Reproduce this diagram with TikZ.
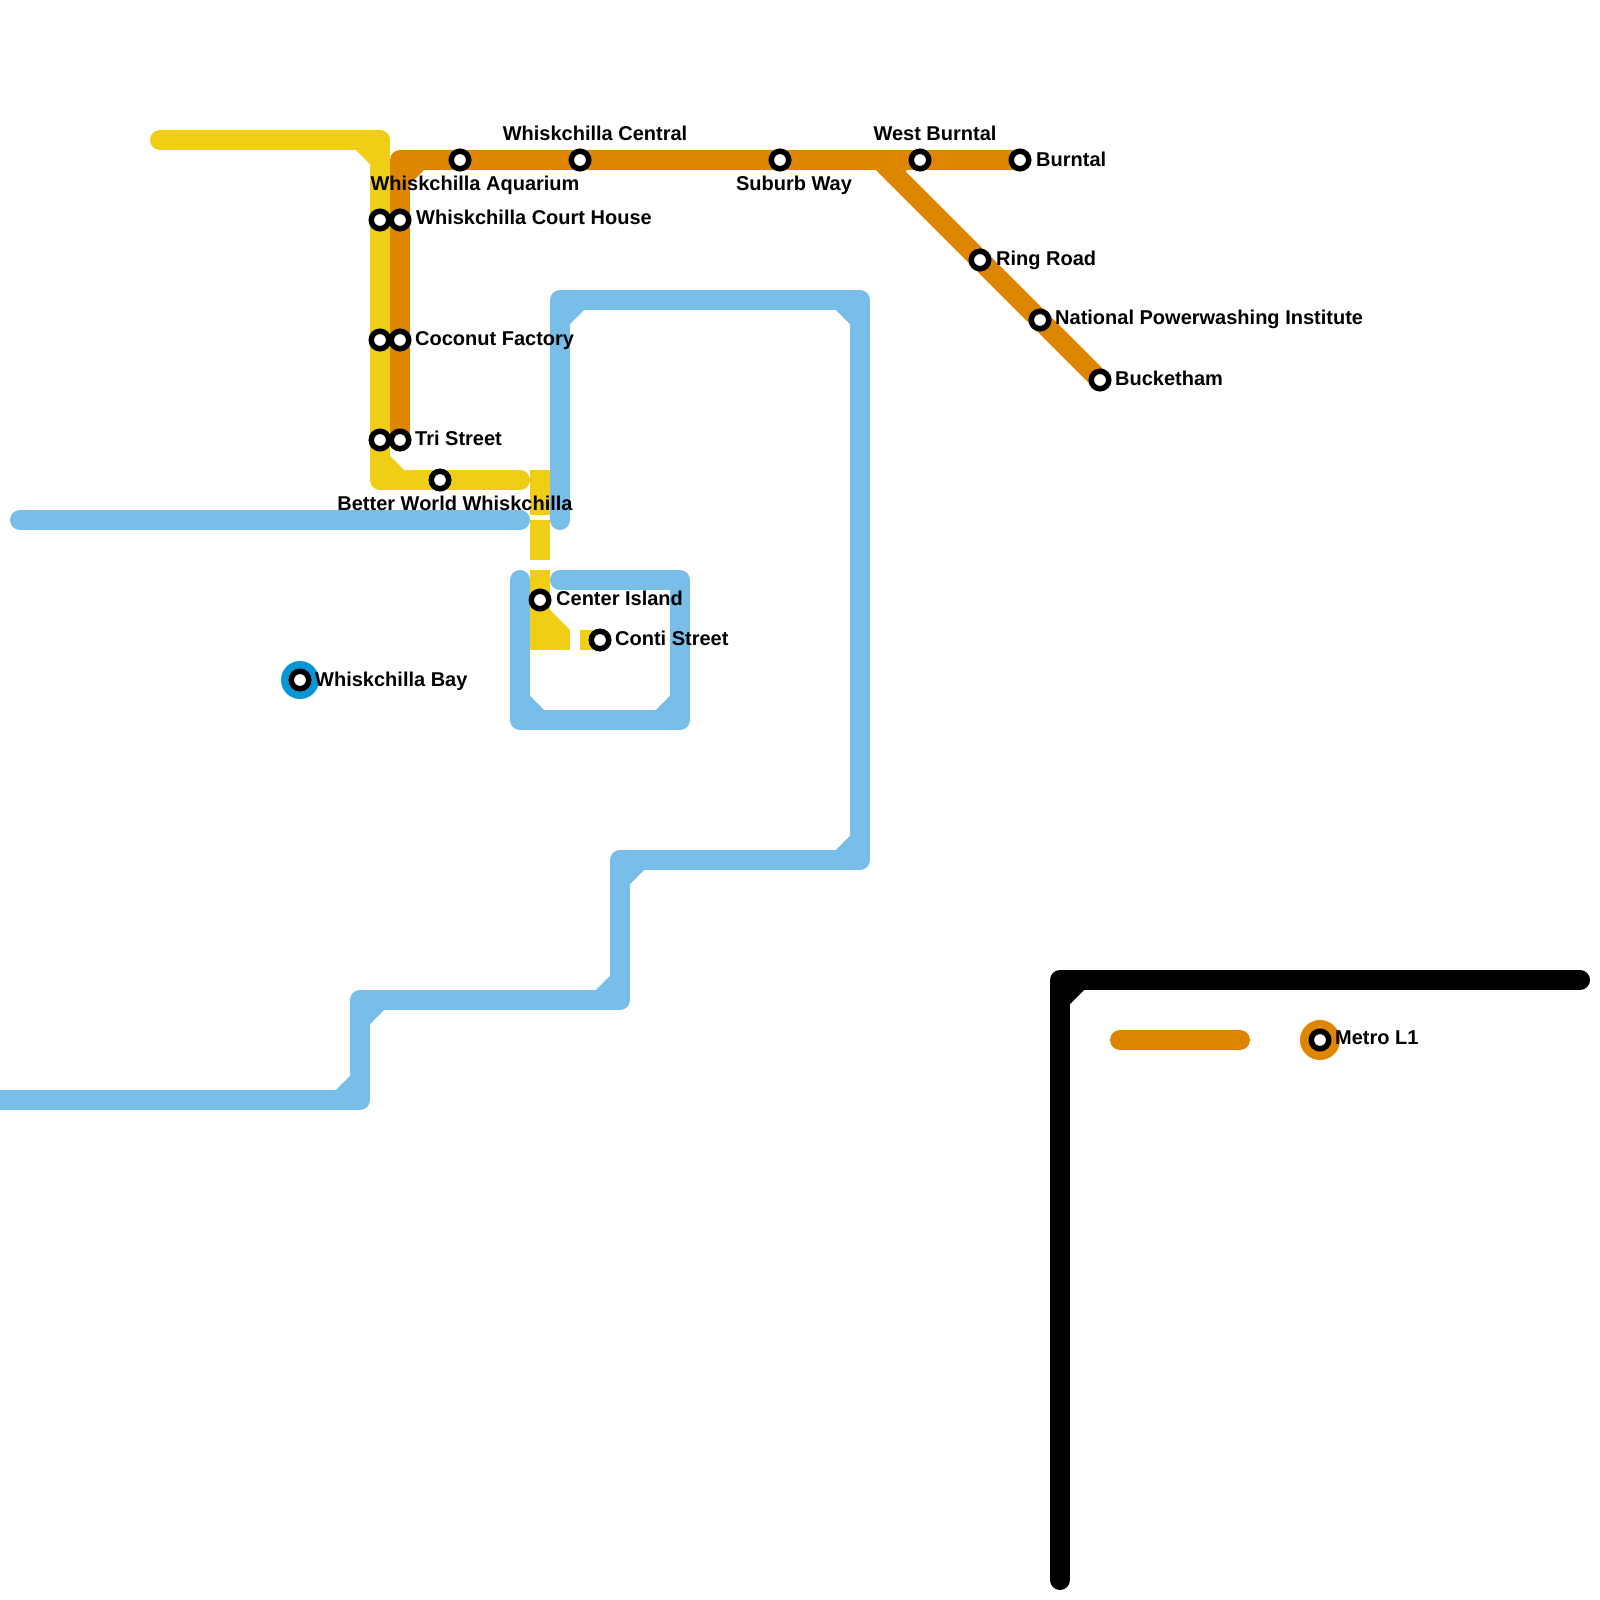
\documentclass[tikz,border=0pt]{standalone}
\usepackage{fontspec}
\setmainfont{Liberation Sans}
\definecolor{metroyellow}{HTML}{F0CE15}
\definecolor{metroorange}{HTML}{DF8600}
\definecolor{metrosky}{HTML}{79BDE9}
\definecolor{metroblue}{HTML}{0896D7}
\tikzset{
  metro/.style={line width=20pt, line cap=round, line join=round},
  station/.style={circle, draw=black, fill=white, line width=5.5pt, minimum size=17.5pt, inner sep=0pt},
  stlabel/.style={font=\bfseries\fontsize{20}{24}\selectfont, inner sep=0pt},
}
\begin{document}
\begin{tikzpicture}[x=1pt,y=-1pt]
\useasboundingbox (0,0) rectangle (1600,1600);
\fill[white] (0,0) rectangle (1600,1600);
% station positions
\coordinate (aquarium) at (460,160);
\coordinate (central) at (580,160);
\coordinate (suburb) at (780,160);
\coordinate (westburntal) at (920,160);
\coordinate (burntal) at (1020,160);
\coordinate (ringroad) at (980,260);
\coordinate (powerwash) at (1040,320);
\coordinate (bucketham) at (1100,380);
\coordinate (courtY) at (380,220);
\coordinate (courtO) at (400,220);
\coordinate (coconutY) at (380,340);
\coordinate (coconutO) at (400,340);
\coordinate (triY) at (380,440);
\coordinate (triO) at (400,440);
\coordinate (betterworld) at (440,480);
\coordinate (centerisland) at (540,600);
\coordinate (conti) at (600,640);
\coordinate (bay) at (300,680);
\coordinate (legend) at (1320,1040);
% sky blue line
\draw[metro, metrosky] (20,520) -- (520,520);
\draw[metro, metrosky] (560,520) -- (560,300) -- (860,300) -- (860,860) -- (620,860) -- (620,1000) -- (360,1000) -- (360,1100) -- (-20,1100);
\draw[metro, metrosky] (560,580) -- (680,580) -- (680,720) -- (520,720) -- (520,580);
% inner corners
\draw[metro, metrosky] (560,320) -- (580,300) (840,300) -- (860,320) (860,840) -- (840,860)
  (640,860) -- (620,880) (620,980) -- (600,1000) (380,1000) -- (360,1020) (360,1080) -- (340,1100)
  (680,700) -- (660,720) (540,720) -- (520,700);
% yellow line
\draw[metro, metroyellow] (160,140) -- (380,140) -- (380,480) -- (520,480);
\draw[metro, metroyellow] (360,140) -- (380,160) (380,460) -- (400,480);
\draw[metroyellow, line width=20pt, line join=miter, dash pattern=on 45pt off 5pt on 40pt off 10pt on 100pt off 10pt on 20pt] (540,470) -- (centerisland) -- (540,640) -- (conti);
\fill[metroyellow] (550,610) -- (570,630) -- (550,630) -- cycle;
% orange line
\draw[metro, metroorange] (triO) -- (400,160) -- (burntal);
\draw[metro, metroorange] (880,160) -- (bucketham);
\draw[metro, metroorange] (400,180) -- (420,160) (900,160) -- (894.14,174.14);
% legend
\draw[metro] (1060,1580) -- (1060,980) -- (1580,980);
\draw[metro] (1060,1000) -- (1080,980);
\draw[metro, metroorange] (1120,1040) -- (1240,1040);
\fill[metroorange] (legend) circle [radius=20pt];
\fill[metroblue] (bay) circle [radius=19pt];
% stations
\node[station] (aquarium-st) at (aquarium) {};
\node[station] (central-st) at (central) {};
\node[station] (suburb-st) at (suburb) {};
\node[station] (westburntal-st) at (westburntal) {};
\node[station] (burntal-st) at (burntal) {};
\node[station] (ringroad-st) at (ringroad) {};
\node[station] (powerwash-st) at (powerwash) {};
\node[station] (bucketham-st) at (bucketham) {};
\node[station] (courtY-st) at (courtY) {};
\node[station] (courtO-st) at (courtO) {};
\node[station] (coconutY-st) at (coconutY) {};
\node[station] (coconutO-st) at (coconutO) {};
\node[station] (triY-st) at (triY) {};
\node[station] (triO-st) at (triO) {};
\node[station] (betterworld-st) at (betterworld) {};
\node[station] (centerisland-st) at (centerisland) {};
\node[station] (conti-st) at (conti) {};
\node[station] (bay-st) at (bay) {};
\node[station] (legend-st) at (legend) {};
% labels
\node[stlabel, anchor=base] (central-lbl) at (595,141) {Whiskchilla Central};
\node[stlabel, anchor=base] (aquarium-lbl) at (475,190) {Whiskchilla Aquarium};
\node[stlabel, anchor=base] (suburb-lbl) at (794,190) {Suburb Way};
\node[stlabel, anchor=base] (westburntal-lbl) at (935,141) {West Burntal};
\node[stlabel, anchor=base west] (burntal-lbl) at (1036,166) {Burntal};
\node[stlabel, anchor=base west] (ringroad-lbl) at (996,265) {Ring Road};
\node[stlabel, anchor=base west] (powerwash-lbl) at (1055,324) {National Powerwashing Institute};
\node[stlabel, anchor=base west] (bucketham-lbl) at (1115,385) {Bucketham};
\node[stlabel, anchor=base west] (court-lbl) at (416,224) {Whiskchilla Court House};
\node[stlabel, anchor=base west] (coconut-lbl) at (415,345) {Coconut Factory};
\node[stlabel, anchor=base west] (tri-lbl) at (415,445) {Tri Street};
\node[stlabel, anchor=base] (betterworld-lbl) at (455,510) {Better World Whiskchilla};
\node[stlabel, anchor=base west] (centerisland-lbl) at (556,605) {Center Island};
\node[stlabel, anchor=base west] (conti-lbl) at (615,645) {Conti Street};
\node[stlabel, anchor=base west] (bay-lbl) at (315,686) {Whiskchilla Bay};
\node[stlabel, anchor=base west] (legend-lbl) at (1335,1044) {Metro L1};
\end{tikzpicture}
\end{document}
